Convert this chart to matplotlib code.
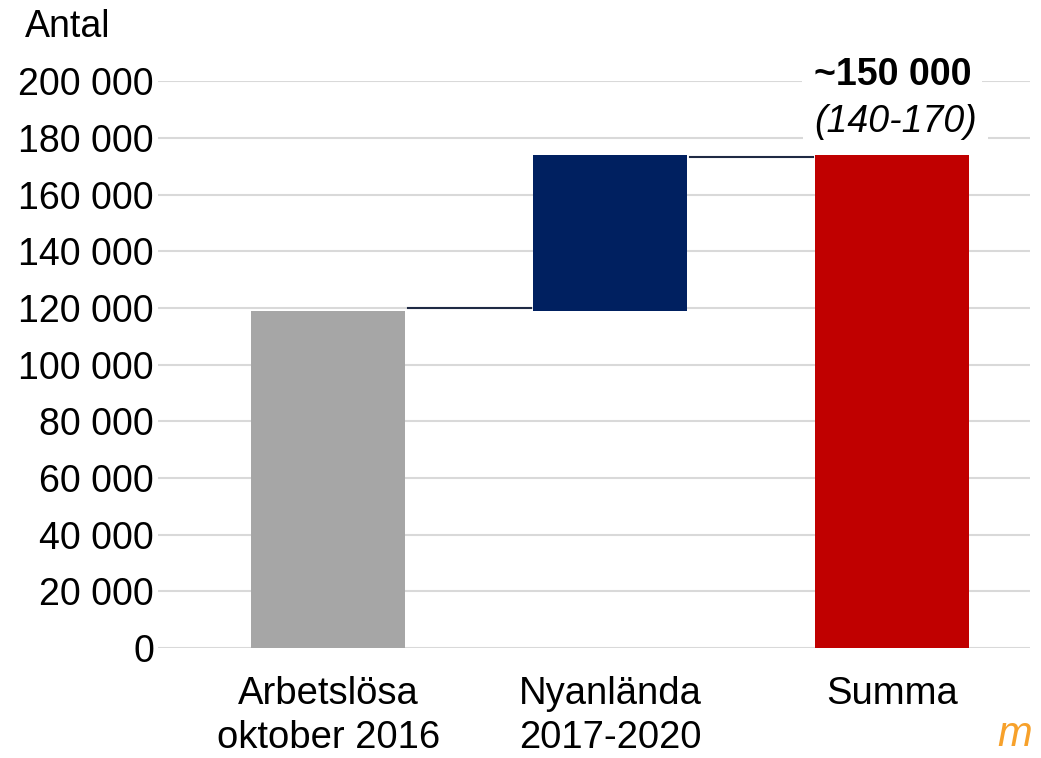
import numpy as np
import matplotlib.pyplot as plt

plt.rcParams['font.family'] = ['Liberation Sans', 'DejaVu Sans']

categories = ['Arbetslösa\noktober 2016', 'Nyanlända\n2017-2020', 'Summa']
bottoms    = [0, 119000, 0]
heights    = [119000, 55000, 174000]
colors     = ['#a6a6a6', '#002060', '#c00000']
yticks     = np.arange(0, 200001, 20000)
ytick_lbls = ['{:,}'.format(v).replace(',', ' ') for v in yticks]

fig = plt.figure(figsize=(10.41, 7.58), dpi=100)
ax  = fig.add_axes([0.152, 0.145, 0.837, 0.748])

x = np.arange(len(categories))
w = 0.546
ax.bar(x, heights, bottom=bottoms, width=w, color=colors, zorder=3)

# connector lines between bars
offs = [1000, -700]
for i in range(len(categories) - 1):
  top = bottoms[i] + heights[i] + offs[i]
  ax.plot([x[i] + w/2 + 0.01, x[i+1] - w/2 - 0.01], [top, top],
          color='#1f2a44', lw=1.5, zorder=4)

ax.set_xlim(-0.603, 2.486)
ax.set_ylim(0, 200000)
ax.set_yticks(yticks)
ax.set_yticklabels(ytick_lbls, fontsize=27)
ax.set_xticks(x)
ax.set_xticklabels(categories, fontsize=27.5, linespacing=1.3)
ax.tick_params(length=0, pad=3)
ax.tick_params(axis='x', pad=20)
ax.grid(axis='y', color='#d9d9d9', lw=1.5, zorder=0)
for s in ax.spines.values():
  s.set_visible(False)

ax.text(x[2], 202100, '~150 000', ha='center', va='center', fontsize=27,
        fontweight='bold', zorder=5,
        bbox=dict(facecolor='white', edgecolor='none', pad=8))
ax.text(x[2] + 0.01, 185500, '(140-170)', ha='center', va='center', fontsize=27,
        fontstyle='italic', zorder=5,
        bbox=dict(facecolor='white', edgecolor='none', pad=8))

fig.text(0.024, 0.965, 'Antal', fontsize=27, ha='left', va='center')
fig.text(0.958, 0.004, 'm', fontsize=30, color='#f7a12b', fontstyle='italic',
         ha='left', va='bottom')

fig.savefig('out.png', dpi=100)
